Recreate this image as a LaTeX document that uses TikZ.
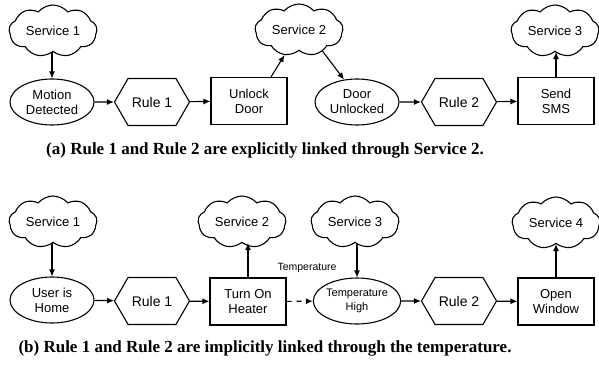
\documentclass[tikz,border=0pt]{standalone}
\usepackage{fontspec}
\setmainfont{Liberation Serif}
\newfontfamily\hel{Liberation Sans}
\usetikzlibrary{shapes.geometric,shapes.symbols,arrows.meta}
\begin{document}
\begin{tikzpicture}[x=1pt,y=-1pt,
 base/.style={draw, line width=1.1pt, font=\hel\fontsize{13}{15}\selectfont, align=center, inner sep=0pt},
 svc/.style={base, cloud, cloud puffs=9, cloud puff arc=100, cloud ignores aspect, minimum width=88pt, minimum height=52pt},
 evt/.style={base, ellipse, minimum width=84pt, minimum height=46pt},
 rulebox/.style={base, signal, signal to=west and east, signal pointer angle=120, minimum width=75pt, minimum height=47pt, font=\hel\fontsize{14}{16}\selectfont},
 act/.style={base, rectangle, minimum width=76pt, minimum height=47pt},
 arr/.style={line width=1.1pt, -{Latex[length=7pt,width=6pt]}},
 captext/.style={font=\bfseries\fontsize{17}{20}\selectfont},
 small/.style={font=\hel\fontsize{10.5}{12}\selectfont}]
\useasboundingbox (0,0) rectangle (599,364);
% (a)
\node[svc] (c1) at (53,31) {Service 1};
\node[svc] (c2) at (299,30) {Service 2};
\node[svc] (c3) at (555,31) {Service 3};
\node[evt] (m1) at (52,102) {Motion\\Detected};
\node[rulebox] (r1) at (152,102) {Rule 1};
\node[act] (a1) at (249,101) {Unlock\\Door};
\node[evt] (d1) at (357,102) {Door\\Unlocked};
\node[rulebox] (r2) at (459,102) {Rule 2};
\node[act] (a2) at (556,101) {Send\\SMS};
\draw[arr] (m1.north |- c1.south) -- (m1.north);
\draw[arr] (m1) -- (r1);
\draw[arr] (r1) -- (a1);
\draw[arr] ([xshift=22pt]a1.north) -- (c2.240);
\draw[arr] (c2.318) -- (d1.120);
\draw[arr] (d1) -- (r2);
\draw[arr] (r2) -- (a2);
\draw[arr] (a2.north) -- (a2.north |- c3.south);
\node[captext] (capa) at (265,150) {(a) Rule 1 and Rule 2 are explicitly linked through Service 2.};
% (b)
\node[svc] (e1) at (53,222) {Service 1};
\node[svc] (e2) at (242,222) {Service 2};
\node[svc] (e3) at (355,222) {Service 3};
\node[svc] (e4) at (556,223) {Service 4};
\node[evt] (uh) at (52,300) {User is\\Home};
\node[rulebox] (q1) at (152,301) {Rule 1};
\node[act] (th) at (248,301.5) {Turn On\\Heater};
\node[evt, font=\hel\fontsize{11}{14}\selectfont] (tp) at (357,301) {Temperature\\High};
\node[rulebox] (q2) at (459,301) {Rule 2};
\node[act] (ow) at (556,301.5) {Open\\Window};
\node[small] (tl) at (307,268) {Temperature};
\draw[arr] (uh.north |- e1.south) -- (uh.north);
\draw[arr] (uh) -- (q1);
\draw[arr] (q1) -- (th);
\draw[arr] (th.north) -- (th.north |- e2.south);
\draw[arr, dash pattern=on 5pt off 5pt] (th) -- (tp);
\draw[arr] (tp.north |- e3.south) -- (tp.north);
\draw[arr] (tp) -- (q2);
\draw[arr] (q2) -- (ow);
\draw[arr] (ow.north) -- (ow.north |- e4.south);
\node[captext] (capb) at (265,348) {(b) Rule 1 and Rule 2 are implicitly linked through the temperature.};
\end{tikzpicture}
\end{document}
